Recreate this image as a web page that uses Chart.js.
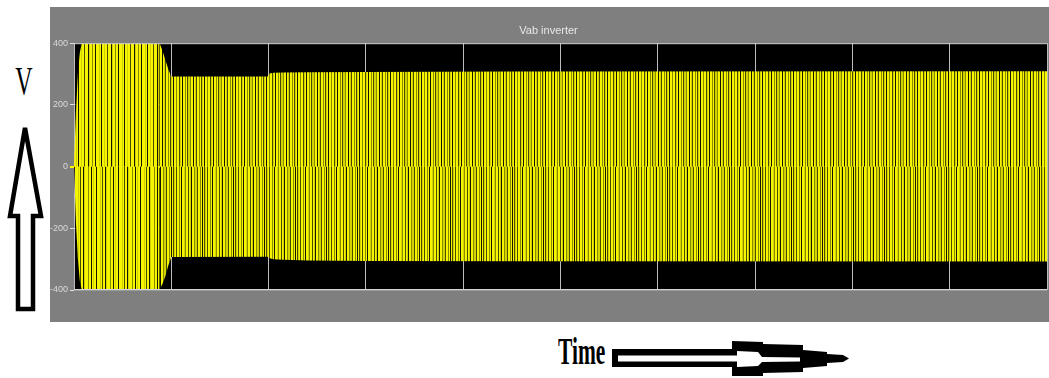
<!DOCTYPE html>
<html>
<head>
<meta charset="utf-8">
<script src="https://cdn.jsdelivr.net/npm/chart.js@4/dist/chart.umd.min.js"></script>
<style>
html,body{margin:0;padding:0;background:#fff;width:1049px;height:378px;overflow:hidden;position:relative;}
#frame{position:absolute;left:50px;top:7px;width:999px;height:315px;background:#7f7f7f;}
#frame canvas{display:block;}
#vlab{position:absolute;left:4px;top:61px;width:40px;text-align:center;font-family:'Liberation Serif','Times New Roman',serif;font-size:40px;line-height:40px;transform:scaleX(0.6);transform-origin:50% 50%;color:#000;}
#tlab{position:absolute;left:558px;top:333px;font-family:'Liberation Serif','Times New Roman',serif;font-weight:bold;font-size:37px;line-height:37px;transform:scaleX(0.58);transform-origin:0 50%;color:#000;white-space:nowrap;}
svg{position:absolute;left:0;top:0;}
</style>
</head>
<body>
<div id="frame"><canvas id="c" width="999" height="315"></canvas></div>
<div id="vlab">V</div>
<div id="tlab">Time</div>
<svg width="1049" height="378" viewBox="0 0 1049 378">
  <polygon points="25,128 41,216 33,216 33,309 18,309 18,216 10,216" fill="#fff" stroke="#000" stroke-width="4.5" stroke-linejoin="miter"/>
  <path d="M612,349 L732,349 L732,341 L763,342 L763,344 L803,345 L803,350 L827,352 L827,354 L843,355 L849,358.5 L843,362 L827,363 L827,366 L803,368 L803,372 L763,373 L763,376 L732,376 L732,367 L612,367 Z" fill="#000"/>
  <path d="M618,355.5 L737,355.5 L737,351 L758,352 L762,357 L800,357.5 L800,361.5 L762,362 L758,366 L737,367 L737,361.5 L618,361.5 Z" fill="#fff"/>
</svg>
<script>
// ---- data (time in s, voltage in V) ----
const timeS  = [0, 0.002, 0.004, 0.006, 0.008, 0.088, 0.091, 0.094, 0.097, 0.100, 0.199, 0.201, 0.205, 0.215, 0.240, 0.300, 0.450, 1.000];
const vUpper = [0, 180, 300, 370, 400, 400, 375, 345, 315, 292, 292, 302, 304, 305, 306, 307, 308, 309];
const vLower = [0, -180, -300, -370, -400, -398, -380, -355, -320, -293, -292, -297, -300, -302, -304, -306, -307, -308];
const yTicks = [400, 200, 0, -200, -400];
const xGridTimes = [0, 0.1, 0.2, 0.3, 0.4, 0.5, 0.6, 0.7, 0.8, 0.9, 1.0];
const titleText = 'Vab inverter';
const startupEnd = 0.088;

// ---- styling: stripe patterns imitating the dense PWM pulses ----
const Y='#f5f500', L='#d2d200', O='#8a8a00', D='#4a4a00', K='#161600';
function makePattern(seq){
  const w = seq.reduce((a,s)=>a+s[1],0);
  const c = document.createElement('canvas');
  c.width = w; c.height = 2;
  const g = c.getContext('2d');
  let x = 0;
  for (const [col, sw] of seq){ g.fillStyle = col; g.fillRect(x,0,sw,2); x += sw; }
  return g.createPattern(c,'repeat');
}
const patMainTop = makePattern([[Y,2],[O,1],[Y,2],[D,1],[L,1],[Y,1],[K,1],[Y,2],[O,1],[Y,1],[D,1],[L,2],[O,1],[Y,2],[K,1],[Y,1],[L,1],[D,1],[Y,2],[O,1],[Y,1],[D,1],[L,1],[Y,1],[K,1]]);
const patMainBot = makePattern([[L,1],[Y,1],[D,1],[Y,2],[O,1],[Y,1],[K,1],[Y,2],[L,1],[O,1],[Y,2],[D,1],[Y,1],[L,1],[K,1],[Y,2],[O,1],[L,2],[D,1],[Y,2],[O,1],[Y,1],[K,1],[Y,1],[D,1]]);
const patWideTop = makePattern([[Y,3],[L,1],[Y,1],[K,1],[Y,2],[L,1],[Y,2],[D,1],[Y,3],[K,1],[L,1],[Y,2],[O,1],[Y,2],[K,1]]);
const patWideBot = makePattern([[Y,2],[K,1],[Y,3],[L,1],[Y,1],[D,1],[Y,2],[K,1],[L,1],[Y,3],[O,1],[Y,2],[K,1],[Y,1],[L,1]]);

function segFill(wide, main){
  return ctx => (ctx.p0.parsed.x < startupEnd ? wide : main);
}

const scopeArea = {
  id: 'scopeArea',
  beforeDraw(chart){
    const {ctx, chartArea:a} = chart;
    ctx.save();
    ctx.fillStyle = '#000000';
    ctx.fillRect(a.left, a.top, a.right - a.left, a.bottom - a.top);
    ctx.restore();
  },
  afterDraw(chart){
    const {ctx, chartArea:a} = chart;
    ctx.save();
    ctx.strokeStyle = '#d4d4d4';
    ctx.lineWidth = 1;
    ctx.beginPath();
    ctx.moveTo(a.left, a.top + 0.5); ctx.lineTo(a.right, a.top + 0.5);
    ctx.moveTo(a.left, a.bottom - 0.5); ctx.lineTo(a.right, a.bottom - 0.5);
    ctx.stroke();
    ctx.restore();
  }
};

const isZero = ctx => ctx.tick && ctx.tick.value === 0;
const fontFam = "'Liberation Sans Narrow','Liberation Sans',Arial,sans-serif";

new Chart(document.getElementById('c'), {
  type: 'line',
  data: {
    datasets: [
      { label: 'Vab (+)', data: timeS.map((t,i)=>({x:t, y:vUpper[i]})), fill: 'origin',
        borderWidth: 0, pointRadius: 0, tension: 0, backgroundColor: patMainTop,
        segment: { backgroundColor: segFill(patWideTop, patMainTop) } },
      { label: 'Vab (-)', data: timeS.map((t,i)=>({x:t, y:vLower[i]})), fill: 'origin',
        borderWidth: 0, pointRadius: 0, tension: 0, backgroundColor: patMainBot,
        segment: { backgroundColor: segFill(patWideBot, patMainBot) } }
    ]
  },
  options: {
    responsive: false, animation: false, devicePixelRatio: 1,
    layout: { padding: { left: 0, right: 2, top: 5, bottom: 32 } },
    plugins: {
      legend: { display: false },
      tooltip: { enabled: false },
      title: { display: true, text: titleText, color: '#e8e8e8',
               font: { family: fontFam, size: 11, weight: 'normal' },
               padding: { top: 12, bottom: 6 } }
    },
    scales: {
      x: {
        type: 'linear', min: 0, max: 1,
        afterBuildTicks: s => { s.ticks = xGridTimes.map(v => ({value: v})); },
        ticks: { display: false },
        grid: { color: '#bcbcbc', lineWidth: 1, drawTicks: false },
        border: { display: false },
        afterFit: s => { s.height = 0; }
      },
      y: {
        min: -400, max: 400, z: 1,
        afterBuildTicks: s => { s.ticks = yTicks.map(v => ({value: v})); },
        ticks: { color: '#dadada', font: { family: fontFam, size: 9 }, padding: 2 },
        grid: {
          color: ctx => isZero(ctx) ? '#ffff00' : 'rgba(255,255,255,0.22)',
          lineWidth: ctx => isZero(ctx) ? 2 : 1,
          tickLength: 4,
          tickColor: ctx => isZero(ctx) ? '#ffff00' : '#e0e0e0'
        },
        border: { display: false },
        afterFit: s => { s.width = 24; }
      }
    }
  },
  plugins: [scopeArea]
});
</script>
</body>
</html>
